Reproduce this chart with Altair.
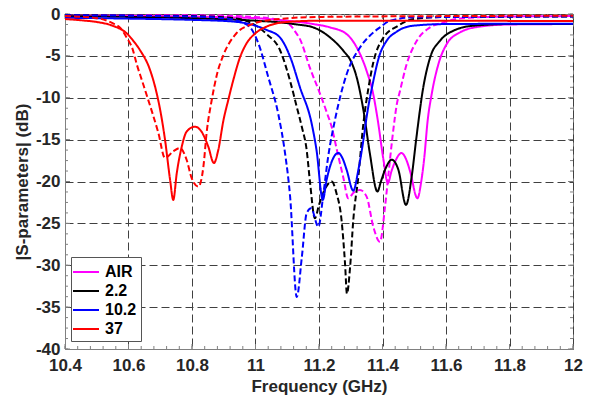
import altair as alt
import pandas as pd

# ---------------- data ----------------
series_names = ["AIR", "2.2", "10.2", "37"]
series_colors = ["#FF00FF", "#000000", "#0000FF", "#FF0000"]

# AIR
f_air_solid = [10.4, 10.6, 10.8, 10.9, 11.0, 11.1, 11.182, 11.235, 11.287, 11.319, 11.35, 11.371,
               11.386, 11.403, 11.417, 11.428, 11.44, 11.46, 11.475, 11.487, 11.51, 11.522, 11.532,
               11.542, 11.555, 11.576, 11.602, 11.644, 11.707, 11.8, 12.0]
db_air_solid = [-0.2, -0.22, -0.3, -0.38, -0.5, -0.8, -1.2, -1.6, -2.4, -4.0, -6.8, -9.6,
                -12.9, -17.4, -20.2, -18.8, -17.6, -16.6, -17.4, -18.8, -22.0, -20.0, -17.0,
                -12.8, -9.55, -6.0, -3.6, -2.2, -1.5, -1.25, -1.2]
f_air_dash = [10.4, 10.8, 11.0, 11.05, 11.08, 11.109, 11.125, 11.14, 11.172, 11.203, 11.225, 11.24,
              11.255, 11.277, 11.292, 11.31, 11.329, 11.35, 11.371, 11.392, 11.408, 11.418, 11.432,
              11.445, 11.455, 11.476, 11.508, 11.55, 11.592, 11.65, 11.8, 12.0]
db_air_dash = [-0.1, -0.15, -0.35, -0.55, -0.8, -1.3, -2.1, -3.0, -6.5, -9.5, -11.8, -13.5,
               -16.0, -19.6, -22.0, -21.3, -21.0, -21.8, -25.4, -27.2, -23.0, -19.4, -14.5,
               -10.8, -9.2, -6.0, -3.2, -1.6, -1.0, -0.5, -0.3, -0.25]

# 2.2
f_22_solid = [10.4, 10.6, 10.8, 11.0, 11.077, 11.13, 11.182, 11.235, 11.277, 11.3, 11.319, 11.34,
              11.36, 11.384, 11.395, 11.408, 11.429, 11.45, 11.474, 11.492, 11.506, 11.515, 11.524,
              11.55, 11.581, 11.623, 11.686, 11.8, 12.0]
db_22_solid = [-0.25, -0.35, -0.5, -0.8, -1.0, -1.25, -1.6, -2.8, -4.4, -5.6, -7.6, -11.5,
               -16.6, -21.2, -20.0, -18.6, -17.4, -18.6, -22.8, -19.4, -15.0, -12.3, -9.8,
               -5.2, -3.2, -2.0, -1.4, -1.2, -1.2]
f_22_dash = [10.4, 10.8, 10.9, 10.95, 10.983, 11.035, 11.077, 11.109, 11.13, 11.146, 11.161, 11.172,
             11.187, 11.2, 11.22, 11.24, 11.255, 11.271, 11.282, 11.288, 11.298, 11.308, 11.324,
             11.34, 11.355, 11.371, 11.403, 11.445, 11.5, 11.6, 12.0]
db_22_dash = [-0.15, -0.25, -0.4, -0.6, -1.0, -2.4, -4.3, -8.0, -11.1, -13.5, -16.2, -20.2,
              -24.4, -22.8, -20.8, -20.0, -21.4, -24.6, -29.8, -33.4, -30.2, -24.6, -19.4,
              -13.0, -9.0, -5.8, -2.8, -1.5, -0.6, -0.35, -0.3]

# 10.2
f_102_solid = [10.4, 10.6, 10.8, 10.93, 11.0, 11.035, 11.077, 11.11, 11.14, 11.177, 11.192, 11.212,
               11.224, 11.245, 11.261, 11.275, 11.287, 11.308, 11.324, 11.34, 11.35, 11.37, 11.39,
               11.413, 11.445, 11.497, 11.6, 12.0]
db_102_solid = [-0.45, -0.55, -0.7, -0.9, -1.4, -1.9, -2.8, -5.2, -8.75, -13.1, -16.2, -22.2,
                -19.8, -17.2, -16.6, -17.3, -18.6, -21.1, -18.6, -15.0, -12.3, -8.2, -5.0,
                -3.2, -2.1, -1.4, -1.2, -1.15]
f_102_dash = [10.4, 10.8, 10.9, 10.95, 10.983, 11.009, 11.04, 11.072, 11.093, 11.109, 11.13, 11.146,
              11.161, 11.175, 11.198, 11.214, 11.229, 11.25, 11.287, 11.329, 11.36, 11.392, 11.424,
              11.5, 12.0]
db_102_dash = [-0.15, -0.3, -0.5, -0.9, -1.6, -3.5, -7.5, -12.0, -16.6, -21.8, -33.8, -29.0,
               -23.8, -23.2, -25.4, -21.4, -17.0, -12.7, -7.2, -4.0, -2.6, -1.6, -0.8,
               -0.4, -0.3]

# 37
f_37_solid = [10.4, 10.45, 10.5, 10.55, 10.594, 10.615, 10.636, 10.668, 10.689, 10.7, 10.715, 10.731,
              10.741, 10.752, 10.768, 10.783, 10.809, 10.83, 10.851, 10.869, 10.883, 10.899, 10.914,
              10.93, 10.95, 10.972, 11.0, 11.035, 11.1, 11.2, 11.5, 12.0]
db_37_solid = [-0.6, -0.75, -0.95, -1.4, -2.3, -3.2, -4.3, -6.7, -9.5, -11.5, -15.0, -19.8,
               -22.2, -19.0, -15.8, -14.05, -13.45, -14.05, -15.8, -17.8, -16.2, -12.7, -10.3,
               -7.9, -5.3, -3.5, -2.3, -1.5, -0.95, -0.8, -0.8, -0.85]
f_37_dash = [10.4, 10.5, 10.55, 10.575, 10.594, 10.613, 10.626, 10.643, 10.66, 10.694, 10.715, 10.741,
             10.762, 10.783, 10.799, 10.82, 10.836, 10.846, 10.862, 10.88, 10.9, 10.94, 10.99,
             11.05, 11.2, 11.6, 12.0]
db_37_dash = [-0.25, -0.5, -1.1, -1.7, -2.8, -4.2, -6.0, -8.0, -10.0, -14.2, -17.2, -16.4,
              -16.0, -17.4, -19.6, -20.6, -18.2, -14.2, -10.3, -7.0, -4.8, -2.3, -1.2,
              -0.7, -0.35, -0.25, -0.2]

x_tick_values = [10.4, 10.6, 10.8, 11.0, 11.2, 11.4, 11.6, 11.8, 12.0]
y_tick_values = [-40, -35, -30, -25, -20, -15, -10, -5, 0]
x_minor_values = [round(10.4 + 0.04 * i, 2) for i in range(41)]
y_minor_values = [-40 + 1.25 * i for i in range(33)]

# ---------------- build table ----------------
groups = [
    ("AIR", "solid", f_air_solid, db_air_solid),
    ("AIR", "dashed", f_air_dash, db_air_dash),
    ("2.2", "solid", f_22_solid, db_22_solid),
    ("2.2", "dashed", f_22_dash, db_22_dash),
    ("10.2", "solid", f_102_solid, db_102_solid),
    ("10.2", "dashed", f_102_dash, db_102_dash),
    ("37", "solid", f_37_solid, db_37_solid),
    ("37", "dashed", f_37_dash, db_37_dash),
]
rows = []
for name, style, fs, vs in groups:
    for f, v in zip(fs, vs):
        rows.append({"freq": f, "db": v, "eps": name, "style": style})
df = pd.DataFrame(rows)

W, H = 508, 335
FONT = "Liberation Sans"

x_scale = alt.Scale(domain=[10.4, 12.0], nice=False, zero=False)
y_scale = alt.Scale(domain=[-40, 0], nice=False, zero=False)

x_axis = alt.Axis(values=x_tick_values, format=".1~f", title="Frequency (GHz)",
                  grid=True, gridDash=[8, 4], gridColor="#404040", gridWidth=1,
                  ticks=False, tickSize=0, domainColor="#808080",
                  labelFont=FONT, labelFontSize=17, labelFontWeight="bold", labelColor="#262626",
                  labelPadding=8, labelFlush=False,
                  titleFont=FONT, titleFontSize=17, titleFontWeight="bold", titleColor="#262626",
                  titlePadding=5)
y_axis = alt.Axis(values=y_tick_values, labelExpr="'' + datum.value", title="|S-parameters| (dB)",
                  grid=True, gridDash=[8, 4], gridColor="#404040", gridWidth=1,
                  ticks=False, tickSize=0, domainColor="#808080",
                  labelFont=FONT, labelFontSize=17, labelFontWeight="bold", labelColor="#262626",
                  labelPadding=5,
                  titleFont=FONT, titleFontSize=17, titleFontWeight="bold", titleColor="#262626",
                  titlePadding=4)

X = alt.X("freq:Q", scale=x_scale, axis=x_axis)
Y = alt.Y("db:Q", scale=y_scale, axis=y_axis)

lines = alt.Chart(df).mark_line(strokeWidth=2, interpolate="monotone", clip=True).encode(
    x=X,
    y=Y,
    color=alt.Color("eps:N", sort=series_names,
                    scale=alt.Scale(domain=series_names, range=series_colors),
                    legend=alt.Legend(title=None, orient="none", legendX=6, legendY=243,
                                      fillColor="white", strokeColor="#555555", padding=4,
                                      symbolType="M-1.3,0H1.3", symbolSize=400, symbolStrokeWidth=2,
                                      symbolDash=[1, 0],
                                      labelFont=FONT, labelFontSize=16, labelFontWeight="bold",
                                      labelColor="#000000", labelOffset=8, rowPadding=0)),
    strokeDash=alt.StrokeDash("style:N", scale=alt.Scale(domain=["solid", "dashed"],
                                                         range=[[1, 0], [6, 3]]), legend=None),
)

# inside tick marks (box style)
xmin_df = pd.DataFrame({"freq": x_minor_values})
xmaj_df = pd.DataFrame({"freq": x_tick_values})
ymin_df = pd.DataFrame({"db": y_minor_values})
ymaj_df = pd.DataFrame({"db": y_tick_values})
TC = "#808080"

def xticks(d, ln):
    b = alt.Chart(d).mark_rule(color=TC, strokeWidth=1).encode(x=X, y=alt.value(H), y2=alt.value(H - ln))
    t = alt.Chart(d).mark_rule(color=TC, strokeWidth=1).encode(x=X, y=alt.value(0), y2=alt.value(ln))
    return [b, t]

def yticks(d, ln):
    l = alt.Chart(d).mark_rule(color=TC, strokeWidth=1).encode(y=Y, x=alt.value(0), x2=alt.value(ln))
    r = alt.Chart(d).mark_rule(color=TC, strokeWidth=1).encode(y=Y, x=alt.value(W), x2=alt.value(W - ln))
    return [l, r]

tick_layers = xticks(xmin_df, 3) + xticks(xmaj_df, 5) + yticks(ymin_df, 3) + yticks(ymaj_df, 5)

chart = alt.layer(*tick_layers, lines).properties(
    width=W, height=H,
    autosize=alt.AutoSizeParams(type="none"),
    padding={"left": 65, "top": 14, "right": 20, "bottom": 53},
    background="white",
).configure_view(stroke="#808080", strokeWidth=1)

chart.save("out.html", embed_options={"renderer": "svg", "actions": False})
